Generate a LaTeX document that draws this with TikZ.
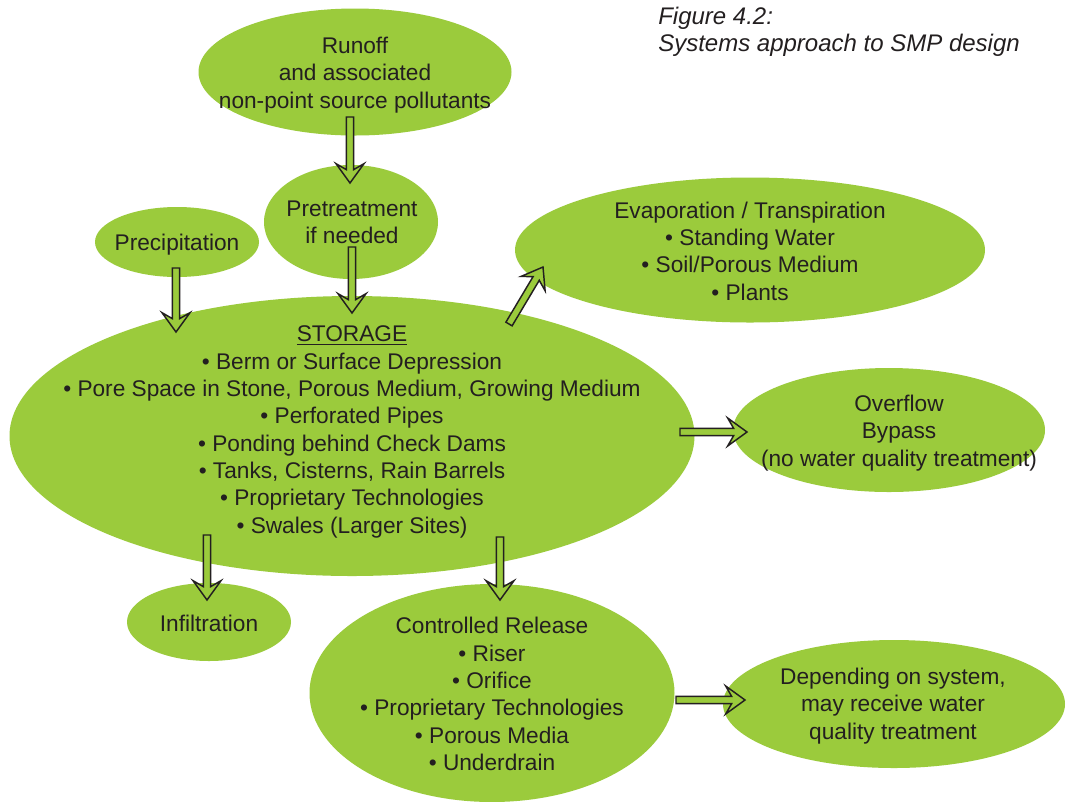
\documentclass[tikz,border=0pt]{standalone}
\usepackage{fontspec}
\setmainfont{Liberation Sans}
\usepackage{xcolor}
\usetikzlibrary{shapes.geometric,calc}

\definecolor{smpgreen}{RGB}{155,203,60}
\definecolor{inkdark}{RGB}{35,31,32}

\newdimen\px \px=0.75pt

% block arrow from #1 to #2 (tail, tip)
\newcommand{\blkarrow}[2]{%
  \draw[blk] ($(#1)!2.7pt!90:(#2)$)
    -- ($(#2)!10pt!(#1)!2.7pt!-90:(#1)$)
    -- ($(#2)!14.5pt!(#1)!10.5pt!-90:(#1)$)
    -- (#2)
    -- ($(#2)!14.5pt!(#1)!10.5pt!90:(#1)$)
    -- ($(#2)!10pt!(#1)!2.7pt!90:(#1)$)
    -- ($(#1)!2.7pt!-90:(#2)$) -- cycle;}

\begin{document}
\begin{tikzpicture}[
  x=0.75pt, y=-0.75pt,
  ell/.style 2 args={ellipse, fill=smpgreen, inner sep=0pt, minimum width=#1\px, minimum height=#2\px},
  txt/.style={align=center, text=inkdark, inner sep=0pt, font=\fontsize{17}{20.5}\selectfont},
  captxt/.style={align=left, text=inkdark, inner sep=0pt, font=\fontsize{18}{20.5}\selectfont\itshape},
  blk/.style={draw=inkdark, fill=smpgreen, line width=1.1pt, line join=miter}
]
\useasboundingbox (0,0) rectangle (1067,801);
\fill[white] (0,0) rectangle (1067,801);

% ── Ellipses ─────────────────────────────────────────────────
\node[ell={313}{127}] (runoff)  at (355,72)  {};
\node[ell={174}{114}] (pretr)   at (351,222) {};
\node[ell={164}{70}]  (precip)  at (177,242) {};
\node[ell={470}{145}] (evap)    at (750,250) {};
\node[ell={685}{280}] (storage) at (352,436) {};
\node[ell={312}{124}] (overfl)  at (889,430) {};
\node[ell={164}{78}]  (infil)   at (209,622) {};
\node[ell={365}{218}] (ctrl)    at (492,693) {};
\node[ell={342}{128}] (depend)  at (894,704) {};

% ── Arrow ends ───────────────────────────────────────────────
\coordinate (runoff-out)  at (350,117);
\coordinate (pretr-in)    at (350,183);
\coordinate (pretr-out)   at (352,247);
\coordinate (stor-in1)    at (352,313);
\coordinate (precip-out)  at (176,268);
\coordinate (stor-in2)    at (176,332);
\coordinate (stor-evap)   at (509,324);
\coordinate (evap-in)     at (543,267);
\coordinate (stor-ovf)    at (680,432);
\coordinate (ovf-in)      at (747,432);
\coordinate (stor-inf)    at (207,535);
\coordinate (inf-in)      at (207,600);
\coordinate (stor-ctrl)   at (500,537);
\coordinate (ctrl-in)     at (500,600);
\coordinate (ctrl-out)    at (676,700);
\coordinate (dep-in)      at (745,700);

% ── Block arrows ─────────────────────────────────────────────
\blkarrow{runoff-out}{pretr-in}
\blkarrow{pretr-out}{stor-in1}
\blkarrow{precip-out}{stor-in2}
\blkarrow{stor-evap}{evap-in}
\blkarrow{stor-ovf}{ovf-in}
\blkarrow{stor-inf}{inf-in}
\blkarrow{stor-ctrl}{ctrl-in}
\blkarrow{ctrl-out}{dep-in}

% ── Texts ────────────────────────────────────────────────────
\node[txt] (runoff-t)  at (355,75)  {Runoff\\and associated\\non-point source pollutants};
\node[txt] (pretr-t)   at (352,222) {Pretreatment\\if needed};
\node[txt] (precip-t)  at (177,245) {Precipitation};
\node[txt] (evap-t)    at (750,251) {Evaporation / Transpiration\\\textbullet\ Standing Water\\\textbullet\ Soil/Porous Medium\\\textbullet\ Plants};
\node[txt] (storage-t) at (352,432) {\underline{STORAGE}\\\textbullet\ Berm or Surface Depression\\\textbullet\ Pore Space in Stone, Porous Medium, Growing Medium\\\textbullet\ Perforated Pipes\\\textbullet\ Ponding behind Check Dams\\\textbullet\ Tanks, Cisterns, Rain Barrels\\\textbullet\ Proprietary Technologies\\\textbullet\ Swales (Larger Sites)};
\node[txt] (overfl-t)  at (899,433) {Overflow\\Bypass\\(no water quality treatment)};
\node[txt] (infil-t)   at (209,623) {Infiltration};
\node[txt] (ctrl-t)    at (492,694) {Controlled Release\\\textbullet\ Riser\\\textbullet\ Orifice\\\textbullet\ Proprietary Technologies\\\textbullet\ Porous Media\\\textbullet\ Underdrain};
\node[txt] (depend-t)  at (893,706) {Depending on system,\\may receive water\\quality treatment};

% ── Caption ──────────────────────────────────────────────────
\node[captxt, anchor=north west] (caption) at (658,7) {Figure 4.2:\\Systems approach to SMP design};

\end{tikzpicture}
\end{document}
